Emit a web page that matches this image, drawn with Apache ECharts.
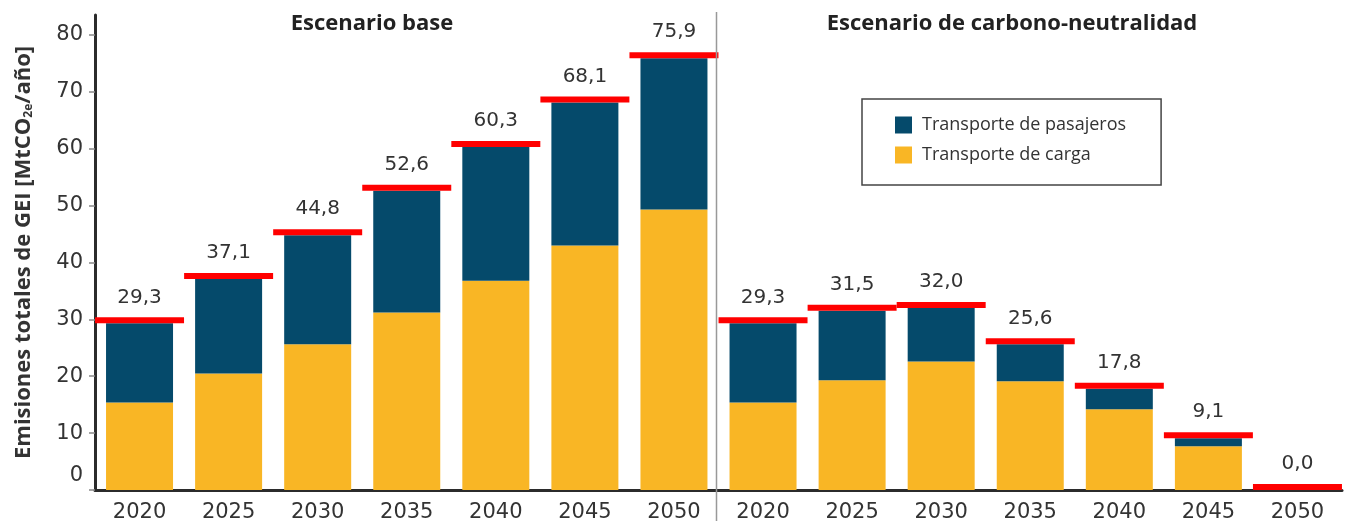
<!DOCTYPE html>
<html>
<head>
<meta charset="utf-8">
<script src="https://cdn.jsdelivr.net/npm/echarts@6/dist/echarts.min.js"></script>
<style>
  html, body { margin: 0; padding: 0; background: #fff; }
  #chartContainer { width: 1345px; height: 523px; }
</style>
</head>
<body>
<div id="chartContainer"></div>
<script>
'use strict';
// years, repeated for both scenarios
const categories = ['2020', '2025', '2030', '2035', '2040', '2045', '2050',
                    '2020', '2025', '2030', '2035', '2040', '2045', '2050'];
// Transporte de carga (bottom)
const carga = [15.4, 20.5, 25.6, 31.2, 36.8, 43.0, 49.3,
               15.4, 19.3, 22.6, 19.1, 14.2, 7.7, 0.0];
// Transporte de pasajeros (top)
const pasajeros = [13.9, 16.6, 19.2, 21.4, 23.5, 25.1, 26.6,
                   13.9, 12.2, 9.4, 6.5, 3.6, 1.4, 0.0];
// totals marked with red line
const totales = [29.3, 37.1, 44.8, 52.6, 60.3, 68.1, 75.9,
                 29.3, 31.5, 32.0, 25.6, 17.8, 9.1, 0.0];
const yTicks = [0, 10, 20, 30, 40, 50, 60, 70, 80];

let initChart = (function() {
    let chartContainer = document.getElementById('chartContainer');
    let chart = echarts.init(chartContainer);
    const font = 'Open Sans';
    const numFont = 'DejaVu Sans';

    let option = {
        backgroundColor: '#fff',
        textStyle: { fontFamily: font },
        animation: false,
        grid: {
            left: 95,
            right: 3,
            top: 15,
            bottom: 32
        },
        legend: {
            data: ['Transporte de pasajeros', 'Transporte de carga'],
            orient: 'vertical',
            left: 862,
            top: 99,
            padding: [17, 35, 21, 33],
            itemWidth: 17,
            itemHeight: 17,
            itemGap: 12,
            icon: 'rect',
            borderColor: '#444',
            borderWidth: 1.5,
            textStyle: {
                fontFamily: font,
                fontSize: 18,
                color: '#333',
                padding: [0, 0, 0, 5]
            }
        },
        xAxis: {
            type: 'category',
            data: categories,
            axisLine: {
                lineStyle: { color: '#2b2b2b', width: 3 }
            },
            axisTick: { show: false },
            axisLabel: {
                interval: 0,
                margin: 12,
                fontFamily: numFont,
                fontSize: 21,
                color: '#333'
            }
        },
        yAxis: {
            type: 'value',
            min: 0,
            max: 83.5,
            name: '{b|Emisiones totales de GEI [MtCO}{s|2e}{b|/año]}',
            nameLocation: 'middle',
            nameGap: 60,
            nameRotate: 90,
            nameTextStyle: {
                rich: {
                    b: { fontFamily: font, fontWeight: 'bold', fontSize: 22, color: '#333' },
                    s: { fontFamily: font, fontWeight: 'bold', fontSize: 12, color: '#333', padding: [9, 0, 0, 0] }
                }
            },
            axisLine: {
                show: true,
                lineStyle: { color: '#2b2b2b', width: 3 }
            },
            axisTick: {
                show: true,
                length: 6,
                customValues: yTicks,
                lineStyle: { color: '#888', width: 1.5 }
            },
            axisLabel: {
                customValues: yTicks,
                margin: 12,
                fontFamily: numFont,
                fontSize: 21,
                color: '#333',
                formatter: function(v) {
                    return v === 0 ? '{z|0}' : String(v);
                },
                rich: {
                    z: { fontSize: 21, color: '#333', fontFamily: numFont, padding: [0, 0, 28, 0] }
                }
            },
            splitLine: { show: false }
        },
        series: [{
            name: 'Transporte de carga',
            type: 'bar',
            stack: 'total',
            data: carga,
            barWidth: 67,
            itemStyle: { color: '#F9B625' }
        }, {
            name: 'Transporte de pasajeros',
            type: 'bar',
            stack: 'total',
            data: pasajeros,
            barWidth: 67,
            itemStyle: { color: '#054A6B' }
        }, {
            name: 'Total',
            type: 'scatter',
            data: totales,
            symbol: 'rect',
            symbolSize: [89, 6],
            symbolOffset: [0, -3],
            z: 5,
            itemStyle: { color: '#FF0000', opacity: 1 },
            label: {
                show: true,
                position: 'top',
                distance: 10,
                fontFamily: numFont,
                fontSize: 20,
                color: '#333',
                formatter: function(p) {
                    return p.value.toFixed(1).replace('.', ',');
                }
            }
        }]
    };

    chart.setOption(option);

    // vertical divider between scenarios and titles
    let x6 = chart.convertToPixel({ xAxisIndex: 0 }, 6);
    let x7 = chart.convertToPixel({ xAxisIndex: 0 }, 7);
    let xd = (x6 + x7) / 2 - 2;
    chart.setOption({
        graphic: [{
            type: 'line',
            shape: { x1: xd, y1: 12, x2: xd, y2: 521 },
            style: { stroke: '#999', lineWidth: 1.5 },
            z: 10
        }, {
            type: 'text',
            x: 372,
            y: 24,
            style: {
                text: 'Escenario base',
                fontFamily: font,
                fontWeight: 'bold',
                fontSize: 22,
                fill: '#222',
                align: 'center',
                verticalAlign: 'middle'
            }
        }, {
            type: 'text',
            x: 1012,
            y: 24,
            style: {
                text: 'Escenario de carbono-neutralidad',
                fontFamily: font,
                fontWeight: 'bold',
                fontSize: 22,
                fill: '#222',
                align: 'center',
                verticalAlign: 'middle'
            }
        }]
    });
})();
</script>
</body>
</html>
